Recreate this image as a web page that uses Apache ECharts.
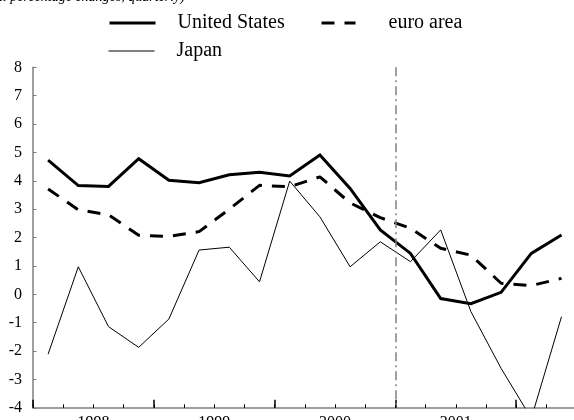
<!DOCTYPE html>
<html>
<head>
<meta charset="utf-8">
<script src="https://cdn.jsdelivr.net/npm/echarts@6/dist/echarts.min.js"></script>
<style>
html,body{margin:0;padding:0;background:#fff;}
#chart{width:574px;height:420px;}
</style>
</head>
<body>
<div id="chart"></div>
<script>
// Quarters 1998 Q1 – 2002 Q2
const quarters = ['1998Q1','1998Q2','1998Q3','1998Q4','1999Q1','1999Q2','1999Q3','1999Q4',
  '2000Q1','2000Q2','2000Q3','2000Q4','2001Q1','2001Q2','2001Q3','2001Q4','2002Q1','2002Q2'];
const yearLabels = ['1998','1999','2000','2001'];
const unitedStates = [4.73,3.83,3.80,4.78,4.02,3.93,4.21,4.30,4.17,4.91,3.73,2.27,1.44,-0.15,-0.33,0.07,1.44,2.09];
const euroArea = [3.71,2.98,2.80,2.08,2.04,2.21,3.00,3.84,3.79,4.14,3.22,2.70,2.33,1.62,1.38,0.39,0.31,0.56];
const japan = [-2.11,0.97,-1.14,-1.87,-0.87,1.56,1.66,0.44,3.99,2.73,0.97,1.85,1.15,2.27,-0.61,-2.61,-4.37,-0.79];
const yTicks = [-4,-3,-2,-1,0,1,2,3,4,5,6,7,8];
const markerQuarter = '2001Q1';
const titleText = '(annual percentage changes, quarterly)';

const FONT = '"Liberation Serif","Times New Roman",serif';
const pos = i => i + 0.5;
const toPairs = arr => arr.map((v, i) => [pos(i), v]);
const markerX = quarters.indexOf(markerQuarter);

const chart = echarts.init(document.getElementById('chart'), null, {renderer: 'canvas'});
const axisGray = '#7f7f7f';

const legendBase = (name, left, top, w, lw, gap) => ({
  data: [name], left: left, top: top, orient: 'horizontal', padding: 0,
  itemWidth: w, itemHeight: 14, selectedMode: false,
  lineStyle: {width: lw},
  itemStyle: {color: 'rgba(0,0,0,0)', borderColor: 'rgba(0,0,0,0)', borderWidth: 0, opacity: 0},
  textStyle: {fontFamily: FONT, fontSize: 20, color: '#000', lineHeight: 20, padding: [0,0,0,gap]}
});

chart.setOption({
  animation: false,
  title: {
    text: titleText, right: 389, top: -10, padding: 0,
    textStyle: {fontFamily: FONT, fontStyle: 'italic', fontWeight: 'normal', fontSize: 14, color: '#000', lineHeight: 14}
  },
  legend: [
    legendBase('United States', 108, 13, 46, 3, 17),
    legendBase('euro area', 320, 13, 34, 3, 28),
    legendBase('Japan', 108, 41, 46, 1, 17)
  ],
  grid: {left: 33, top: 67.3, width: 543.6, height: 340.5, containLabel: false, outerBoundsMode: 'none'},
  xAxis: [{
    type: 'value', min: 0, max: quarters.length, interval: 1,
    axisLine: {show: true, onZero: false, lineStyle: {color: axisGray, width: 1.5}},
    axisTick: {show: true, inside: true, length: 3.5, lineStyle: {color: '#000', width: 1}},
    splitLine: {show: false},
    axisLabel: {
      show: true, margin: 7, fontFamily: FONT, fontSize: 16, color: '#000',
      formatter: v => (v % 4 === 2 && yearLabels[(v - 2) / 4] ? yearLabels[(v - 2) / 4] : '')
    }
  }, {
    type: 'value', min: 0, max: quarters.length, interval: 4, position: 'bottom',
    axisLine: {show: false, onZero: false},
    axisTick: {show: true, inside: true, length: 8, lineStyle: {color: '#000', width: 1.5}},
    axisLabel: {show: false}, splitLine: {show: false}
  }],
  yAxis: {
    type: 'value', min: yTicks[0], max: yTicks[yTicks.length - 1], interval: 1,
    axisLine: {show: true, onZero: false, lineStyle: {color: axisGray, width: 1.5}},
    axisTick: {show: true, inside: true, length: 3.5, lineStyle: {color: axisGray, width: 1}},
    splitLine: {show: false},
    axisLabel: {margin: 11, fontFamily: FONT, fontSize: 16, color: '#000'}
  },
  series: [{
    name: 'United States', type: 'line', data: toPairs(unitedStates), symbol: 'none',
    lineStyle: {color: '#000', width: 3, join: 'miter'}, itemStyle: {color: '#000'}, z: 4,
    markLine: {
      silent: true, symbol: ['none','none'], label: {show: false},
      lineStyle: {color: '#808080', width: 1.5, type: [9,4,2,4]},
      data: [[{coord: [markerX, yTicks[yTicks.length - 1]]}, {coord: [markerX, yTicks[0]]}]]
    }
  }, {
    name: 'euro area', type: 'line', data: toPairs(euroArea), symbol: 'none',
    lineStyle: {color: '#000', width: 3, type: [13,10]}, itemStyle: {color: '#000'}, z: 3
  }, {
    name: 'Japan', type: 'line', data: toPairs(japan), symbol: 'none',
    lineStyle: {color: '#000', width: 1}, itemStyle: {color: '#000'}, z: 2
  }]
});
</script>
</body>
</html>
